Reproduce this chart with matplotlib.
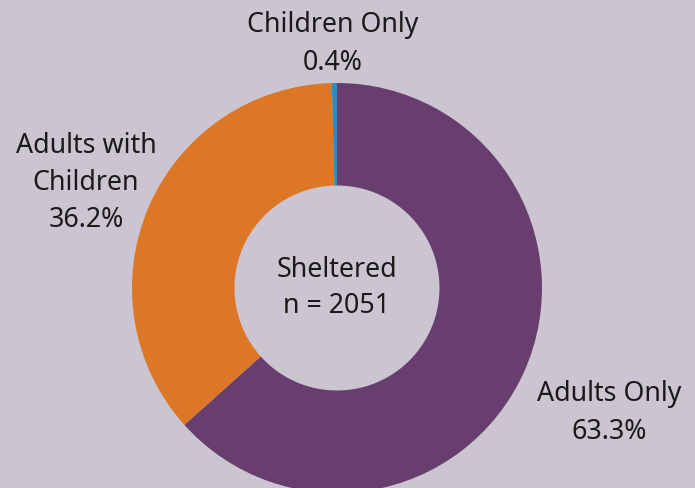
import matplotlib
matplotlib.use("Agg")
import matplotlib.pyplot as plt

categories = ["Adults Only", "Adults with Children", "Children Only"]
shares = [63.3, 36.2, 0.4]
label_text = ["Adults Only\n63.3%", "Adults with\nChildren\n36.2%", "Children Only\n0.4%"]
centre_title = "Sheltered"
centre_n = 2051

colours = ["#673E6E", "#DC7726", "#2E8BC0"]
bg = "#CBC4D1"

plt.rcParams["font.family"] = ["Noto Sans", "DejaVu Sans"]

W, H = 695, 489
cx, cy, R = 337, 289, 205  # donut centre and radius in pixels

fig = plt.figure(figsize=(W / 100, H / 100), dpi=100, facecolor=bg)
ax = fig.add_axes([0, 0, 1, 1])
ax.set_facecolor(bg)

ax.pie(shares, colors=colours, startangle=90, counterclock=False, radius=R,
       wedgeprops=dict(width=R * 0.5, linewidth=0))
ax.set_xlim(-cx, W - cx)
ax.set_ylim(-(H - cy), cy)
ax.set_aspect("equal")
ax.axis("off")

# label positions in pixel coordinates (x, y from top)
label_pos = [(609, 413), (86, 183), (333, 44)]
fs = 19.3
for txt, (px, py) in zip(label_text, label_pos):
    ax.text(px - cx, cy - py, txt, ha="center", va="center", fontsize=fs,
            color="#1a1a1a", linespacing=1.43)

ax.text(0, cy - 288, f"{centre_title}\nn = {centre_n}", ha="center", va="center",
        fontsize=fs, color="#1a1a1a", linespacing=1.35)

fig.savefig("out.png", dpi=100, facecolor=bg)
